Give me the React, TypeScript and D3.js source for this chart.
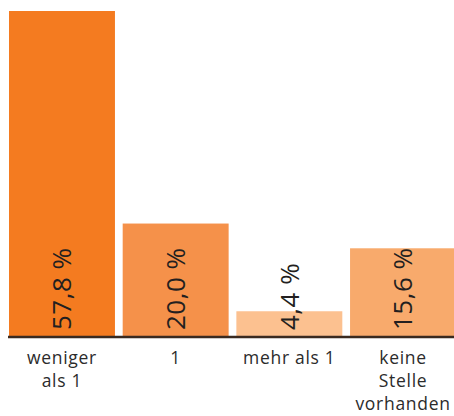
import React from "react";
import * as d3 from "d3";

const categories: string[][] = [["weniger", "als 1"], ["1"], ["mehr als 1"], ["keine", "Stelle", "vorhanden"]];
const values: number[] = [57.8, 20.0, 4.4, 15.6];
const valueLabels: string[] = ["57,8 %", "20,0 %", "4,4 %", "15,6 %"];
const colors: string[] = ["#F47B20", "#F5914A", "#FCC190", "#F8AA6C"];

const W = 454;
const H = 416;
const baseY = 336;

export default function App() {
  const x = d3
    .scaleBand<number>()
    .domain(values.map((_, i) => i))
    .range([9, 456])
    .paddingInner(0.068)
    .paddingOuter(0);
  const y = d3.scaleLinear().domain([0, 57.8]).range([baseY, 11]);
  const font = "'Open Sans', 'DejaVu Sans', sans-serif";
  return (
    <svg width={W} height={H} style={{ position: "absolute", left: 0, top: 0 }}>
      {values.map((v, i) => {
        const bx = x(i)!;
        const bw = x.bandwidth();
        return <rect key={i} x={bx} y={y(v)} width={bw} height={baseY - y(v)} fill={colors[i]} />;
      })}
      <line x1={8} x2={W} y1={baseY + 1} y2={baseY + 1} stroke="#3a2a20" strokeWidth={2.5} />
      {values.map((v, i) => {
        const cx = x(i)! + x.bandwidth() / 2;
        return (
          <text
            key={"v" + i}
            transform={`translate(${cx},330) rotate(-90)`}
            dy="0.36em"
            fontFamily={font}
            fontSize={26}
            letterSpacing={0.5}
            fill="#231f20"
            textAnchor="start"
          >
            {valueLabels[i]}
          </text>
        );
      })}
      {categories.map((lines, i) => {
        const cx = x(i)! + x.bandwidth() / 2;
        return (
          <g key={"c" + i}>
            {lines.map((l, j) => (
              <text
                key={j}
                x={cx}
                y={364 + j * 23}
                fontFamily={font}
                fontSize={17.5}
                letterSpacing={0.7}
                fill="#2b2b2b"
                textAnchor="middle"
              >
                {l}
              </text>
            ))}
          </g>
        );
      })}
    </svg>
  );
}
